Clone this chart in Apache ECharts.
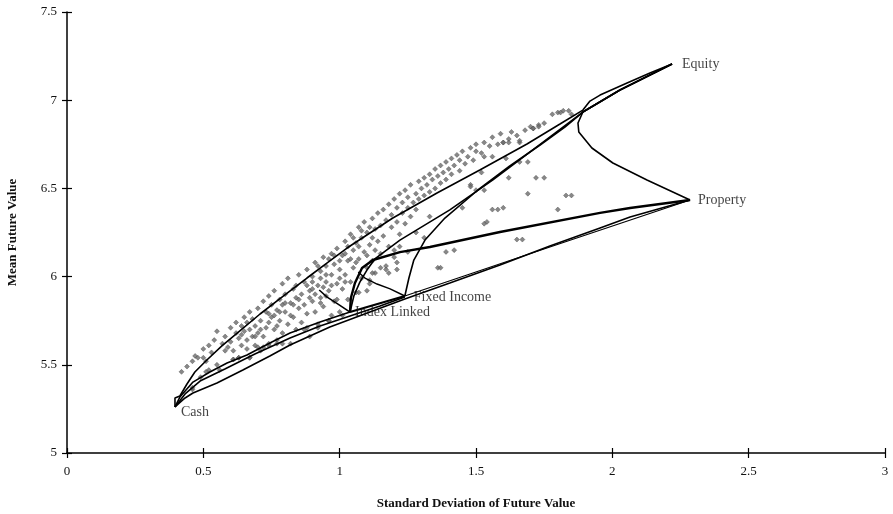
<!DOCTYPE html>
<html>
<head>
<meta charset="utf-8">
<script src="https://cdn.jsdelivr.net/npm/echarts@6/dist/echarts.min.js"></script>
<style>
  html, body { margin: 0; padding: 0; background: #fff; }
  #chart { width: 893px; height: 514px; }
</style>
</head>
<body>
<div id="chart"></div>
<script>
// Asset classes: [standard deviation, mean] of future value
const assetNames = ['Cash', 'Index Linked', 'Fixed Income', 'Property', 'Equity'];
const assetPoints = [[0.396, 5.261], [1.038, 5.799], [1.239, 5.890], [2.285, 6.434], [2.219, 7.205]];

// Two-asset mix curves
const cashEquity = [[0.396,5.261],[0.396,5.312],[0.414,5.323],[0.440,5.391],[0.469,5.459],[0.513,5.527],[0.568,5.607],[0.634,5.692],[0.708,5.788],[0.799,5.896],[0.880,5.992],[0.953,6.077],[1.027,6.162],[1.111,6.247],[1.195,6.332],[1.357,6.474],[1.514,6.604],[1.687,6.752],[1.808,6.865],[1.892,6.944],[1.918,6.995],[1.955,7.029],[2.054,7.098],[2.138,7.154],[2.219,7.205]];
const cashProperty = [[0.396,5.261],[0.433,5.312],[0.462,5.340],[0.550,5.397],[0.645,5.471],[0.744,5.550],[0.818,5.612],[0.964,5.714],[1.111,5.799],[1.239,5.873],[1.404,5.964],[1.588,6.066],[1.771,6.173],[1.955,6.276],[2.065,6.338],[2.285,6.434]];
const cashIndexLinked = [[0.396,5.261],[0.414,5.317],[0.462,5.402],[0.524,5.459],[0.587,5.510],[0.660,5.556],[0.744,5.624],[0.818,5.680],[0.928,5.743],[1.038,5.799]];
const cashFixedIncome = [[0.396,5.261],[0.433,5.335],[0.488,5.408],[0.579,5.476],[0.689,5.561],[0.818,5.652],[0.928,5.720],[1.038,5.777],[1.148,5.833],[1.239,5.884]];
const indexLinkedFixedIncome = [[1.038,5.799],[1.239,5.890]];
const fixedIncomeProperty = [[1.239,5.890],[1.771,6.168],[2.285,6.434]];
const propertyIndexLinked = [[2.285,6.434],[2.065,6.389],[1.955,6.361],[1.588,6.253],[1.331,6.168],[1.221,6.139],[1.122,6.094],[1.082,6.049],[1.056,5.964],[1.041,5.879],[1.038,5.799]];
const equityIndexLinked = [[0.925,5.924],[0.954,5.884],[0.994,5.844],[1.038,5.799],[1.052,5.890],[1.074,5.969],[1.100,6.037],[1.129,6.100],[1.221,6.207],[1.404,6.378],[1.562,6.548],[1.723,6.735],[1.892,6.933],[2.028,7.058],[2.219,7.205]];
const equityFixedIncome = [[1.239,5.890],[1.254,5.992],[1.272,6.094],[1.313,6.207],[1.386,6.332],[1.507,6.491],[1.624,6.627],[1.735,6.746],[1.826,6.848],[1.892,6.933],[2.028,7.058],[2.219,7.205]];
const fixedIncomeReturn = [[1.239,5.890],[1.185,5.930],[1.137,5.958],[1.093,5.992],[1.068,6.026]];
const equityProperty = [[2.219,7.205],[2.028,7.058],[1.892,6.933],[1.874,6.871],[1.877,6.820],[1.925,6.729],[2.002,6.644],[2.127,6.548],[2.285,6.434]];

// Simulated portfolios
const portfolios = [
  [0.42,5.46],[0.44,5.49],[0.46,5.52],[0.47,5.55],[0.48,5.54],[0.50,5.54],[0.50,5.59],[0.52,5.61],[0.53,5.57],[0.54,5.64],[0.55,5.69],[0.46,5.36],[0.52,5.47],[0.55,5.50],[0.51,5.52],[0.49,5.43],
  [0.56,5.47],[0.57,5.62],[0.58,5.66],[0.59,5.60],[0.60,5.71],[0.60,5.63],[0.61,5.53],[0.62,5.68],[0.62,5.74],[0.63,5.54],[0.63,5.65],[0.64,5.72],[0.64,5.61],[0.65,5.69],[0.65,5.77],[0.66,5.64],[0.66,5.74],[0.67,5.54],[0.67,5.70],[0.67,5.80],[0.68,5.66],[0.68,5.76],[0.69,5.61],[0.69,5.72],[0.70,5.82],[0.70,5.68],[0.58,5.58],[0.61,5.58],[0.64,5.67],[0.66,5.59],
  [0.71,5.58],[0.71,5.75],[0.72,5.86],[0.72,5.66],[0.73,5.80],[0.73,5.71],[0.74,5.89],[0.74,5.62],[0.75,5.77],[0.75,5.84],[0.76,5.70],[0.76,5.92],[0.77,5.81],[0.77,5.64],[0.78,5.75],[0.78,5.87],[0.79,5.96],[0.79,5.68],[0.80,5.80],[0.80,5.90],[0.81,5.73],[0.81,5.99],[0.82,5.85],[0.82,5.62],[0.83,5.93],[0.83,5.77],[0.84,5.70],[0.84,5.88],[0.85,6.01],[0.85,5.82],[0.72,5.60],[0.74,5.74],[0.77,5.72],[0.79,5.84],[0.82,5.78],[0.84,5.95],
  [0.86,5.90],[0.86,5.74],[0.87,5.97],[0.87,5.84],[0.88,6.04],[0.88,5.79],[0.89,5.92],[0.89,5.66],[0.90,6.00],[0.90,5.86],[0.91,6.08],[0.91,5.80],[0.92,5.95],[0.92,5.71],[0.93,6.03],[0.93,5.88],[0.94,6.11],[0.94,5.83],[0.95,5.97],[0.95,6.06],[0.96,5.75],[0.96,5.92],[0.97,6.13],[0.97,6.01],[0.98,5.86],[0.98,6.07],[0.99,5.96],[0.99,6.16],[1.00,5.80],[1.00,6.04],[0.87,5.70],[0.90,5.93],[0.92,6.06],[0.95,5.89],[0.97,5.78],
  [1.01,6.12],[1.01,5.93],[1.02,6.20],[1.02,6.01],[1.03,5.87],[1.03,6.09],[1.04,6.24],[1.04,5.97],[1.05,6.15],[1.05,6.05],[1.06,5.91],[1.06,6.19],[1.07,6.28],[1.07,6.10],[1.08,5.99],[1.08,6.22],[1.09,6.14],[1.09,6.31],[1.10,6.05],[1.10,6.25],[1.11,5.96],[1.11,6.18],[1.12,6.33],[1.12,6.09],[1.13,6.27],[1.13,6.02],[1.14,6.20],[1.14,6.36],[1.15,6.13],[1.15,6.29],[1.03,6.17],[1.06,6.08],[1.10,6.12],[1.13,6.15],
  [1.16,6.38],[1.16,6.23],[1.17,6.06],[1.17,6.32],[1.18,6.41],[1.18,6.17],[1.19,6.28],[1.19,6.35],[1.20,6.44],[1.20,6.11],[1.21,6.31],[1.21,6.39],[1.22,6.24],[1.22,6.47],[1.23,6.36],[1.23,6.42],[1.24,6.30],[1.24,6.49],[1.25,6.39],[1.25,6.45],[1.26,6.34],[1.26,6.52],[1.27,6.42],[1.28,6.47],[1.28,6.38],[1.29,6.54],[1.29,6.44],[1.30,6.50],
  [1.31,6.46],[1.31,6.56],[1.32,6.52],[1.33,6.58],[1.33,6.48],[1.34,6.55],[1.35,6.61],[1.35,6.50],[1.36,6.57],[1.37,6.63],[1.37,6.53],[1.38,6.59],[1.39,6.65],[1.39,6.55],[1.40,6.61],[1.41,6.67],[1.41,6.58],[1.42,6.63],[1.43,6.69],[1.44,6.60],[1.44,6.66],[1.45,6.71],[1.46,6.64],[1.47,6.68],[1.48,6.73],[1.49,6.66],[1.50,6.71],[1.50,6.75],
  [1.52,6.70],[1.53,6.76],[1.55,6.74],[1.56,6.79],[1.58,6.75],[1.59,6.81],[1.60,6.76],[1.62,6.78],[1.63,6.82],[1.65,6.80],[1.66,6.76],[1.68,6.83],[1.70,6.85],[1.71,6.84],[1.73,6.86],[1.75,6.87],[1.78,6.92],[1.80,6.93],[1.82,6.94],[1.85,6.92],
  [1.81,6.93],[1.84,6.94],[1.71,6.84],[1.73,6.85],[1.60,6.76],[1.62,6.76],[1.66,6.77],[1.53,6.68],[1.56,6.68],[1.61,6.67],[1.66,6.65],[1.69,6.65],[1.62,6.56],[1.72,6.56],[1.75,6.56],[1.53,6.49],[1.69,6.47],[1.83,6.46],[1.85,6.46],[1.56,6.38],[1.58,6.38],[1.60,6.39],[1.80,6.38],[1.53,6.30],[1.54,6.31],[1.65,6.21],[1.67,6.21],[1.39,6.14],[1.42,6.15],[1.36,6.05],[1.37,6.05],[1.48,6.52],[1.50,6.49],[1.52,6.59],
  [1.45,6.39],[1.48,6.51],[1.33,6.34],[1.31,6.22],[1.28,6.25],[1.22,6.17],[1.20,6.15],[1.25,6.14],[1.12,6.02],[1.18,6.02],[1.21,6.04],[1.17,6.04],[1.21,6.08],[1.15,6.05],[1.11,5.98],[1.07,5.91],[1.10,5.92],[0.93,5.85],[0.99,5.87],
  [0.46,5.37],[0.51,5.46],[0.61,5.53],[0.63,5.54],[0.67,5.54],[0.70,5.60],[0.74,5.61],[0.77,5.62],[0.79,5.62],[0.88,5.71],[0.92,5.73],[0.96,5.75],[1.01,5.78],
  [0.88,5.95],[0.90,5.97],[0.93,5.99],[0.95,6.01],[0.96,6.10],[0.98,6.12],[1.00,6.09],[1.02,6.13],[1.04,6.10],[1.05,6.22],[1.07,6.17],[1.08,6.26],[1.11,6.28],[1.12,6.22],[0.89,5.88],[0.91,5.90],[0.94,5.94],[0.97,5.95],[1.00,5.99],[1.02,5.97],[0.85,5.87],[0.83,5.84],[0.80,5.85],[0.78,5.80],[0.76,5.78],[0.74,5.79],[0.71,5.70],[0.69,5.66]
];

// Axis ticks
const xTicks = [0, 0.5, 1, 1.5, 2, 2.5, 3];
const yTicks = [5, 5.5, 6, 6.5, 7, 7.5];

const serif = '"Liberation Serif", "DejaVu Serif", serif';

function curve(name, data, width) {
  return {
    name: name,
    type: 'line',
    data: data,
    showSymbol: false,
    symbol: 'none',
    silent: true,
    z: 3,
    lineStyle: { color: '#000', width: width || 1.6 }
  };
}

const chart = echarts.init(document.getElementById('chart'), null, { renderer: 'canvas' });

const xBase = {
  type: 'value', min: xTicks[0], max: xTicks[xTicks.length - 1], interval: 0.5,
  splitLine: { show: false }
};
const yBase = {
  type: 'value', min: yTicks[0], max: yTicks[yTicks.length - 1], interval: 0.5,
  splitLine: { show: false }
};

chart.setOption({
  animation: false,
  backgroundColor: '#fff',
  grid: { left: 67, right: 8, top: 12, bottom: 61, containLabel: false, outerBoundsMode: 'none' },
  xAxis: [
    Object.assign({}, xBase, {
      position: 'bottom',
      name: 'Standard Deviation of Future Value',
      nameLocation: 'middle',
      nameGap: 44,
      nameTextStyle: { fontFamily: serif, fontWeight: 'bold', fontSize: 13, color: '#111' },
      axisLine: { onZero: false, lineStyle: { color: '#000', width: 1.5 } },
      axisTick: { show: true, inside: false, length: 5, lineStyle: { color: '#000', width: 1.2 } },
      axisLabel: {
        fontFamily: serif, fontSize: 13, color: '#111', margin: 12,
        formatter: v => String(v)
      }
    }),
    Object.assign({}, xBase, {
      position: 'bottom',
      axisLine: { show: false },
      axisTick: { show: true, inside: true, length: 5, lineStyle: { color: '#000', width: 1.2 } },
      axisLabel: { show: false }
    })
  ],
  yAxis: [
    Object.assign({}, yBase, {
      position: 'left',
      name: 'Mean Future Value',
      nameLocation: 'middle',
      nameGap: 48,
      nameRotate: 90,
      nameTextStyle: { fontFamily: serif, fontWeight: 'bold', fontSize: 13, color: '#111' },
      axisLine: { onZero: false, lineStyle: { color: '#000', width: 1.5 } },
      axisTick: { show: true, inside: false, length: 5, lineStyle: { color: '#000', width: 1.2 } },
      axisLabel: {
        fontFamily: serif, fontSize: 13, color: '#111', margin: 10,
        formatter: v => String(v)
      }
    }),
    Object.assign({}, yBase, {
      position: 'left',
      axisLine: { show: false },
      axisTick: { show: true, inside: true, length: 5, lineStyle: { color: '#000', width: 1.2 } },
      axisLabel: { show: false }
    })
  ],
  series: [
    {
      name: 'Portfolios',
      type: 'scatter',
      data: portfolios,
      symbol: 'diamond',
      symbolSize: 5,
      silent: true,
      z: 2,
      itemStyle: { color: '#6a6a6a', borderColor: '#444', borderWidth: 0.5 }
    },
    curve('Cash-Equity', cashEquity),
    curve('Cash-Property', cashProperty),
    curve('Cash-Index Linked', cashIndexLinked),
    curve('Cash-Fixed Income', cashFixedIncome),
    curve('Index Linked-Fixed Income', indexLinkedFixedIncome, 2.2),
    curve('Fixed Income-Property', fixedIncomeProperty, 1.2),
    curve('Property-Index Linked', propertyIndexLinked, 2.4),
    curve('Equity-Index Linked', equityIndexLinked),
    curve('Equity-Fixed Income', equityFixedIncome),
    curve('Fixed Income branch', fixedIncomeReturn, 1.4),
    curve('Equity-Property', equityProperty),
    {
      name: 'Assets',
      type: 'scatter',
      symbolSize: 0,
      silent: true,
      z: 5,
      data: assetNames.map((n, i) => {
        const pos = {
          'Cash': { position: 'right', distance: 6, offset: [0, 5] },
          'Index Linked': { position: 'right', distance: 5, offset: [0, 0] },
          'Fixed Income': { position: 'right', distance: 9, offset: [0, 1] },
          'Property': { position: 'right', distance: 8, offset: [0, 0] },
          'Equity': { position: 'right', distance: 10, offset: [0, 0] }
        }[n];
        return {
          name: n,
          value: assetPoints[i],
          label: Object.assign({
            show: true,
            formatter: '{b}',
            fontFamily: serif,
            fontSize: 14,
            color: '#111'
          }, pos)
        };
      })
    }
  ]
});
</script>
</body>
</html>
